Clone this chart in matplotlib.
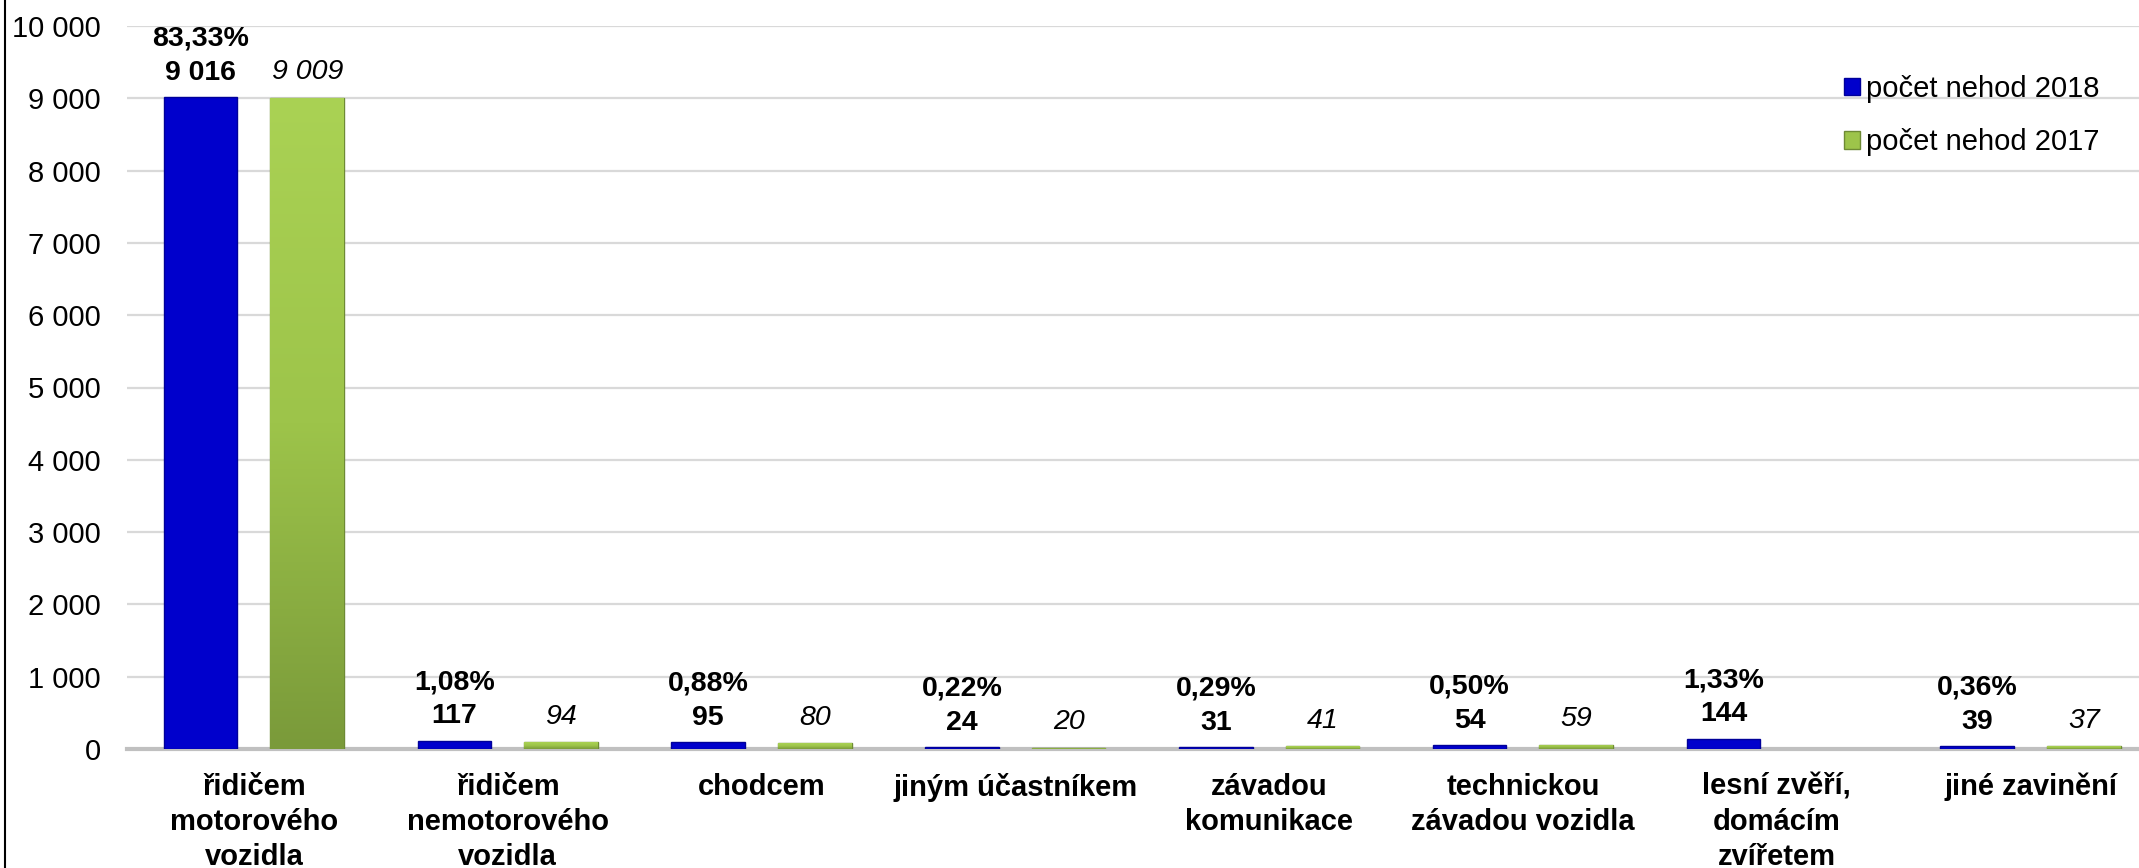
import numpy as np
import matplotlib
matplotlib.use("Agg")
import matplotlib.pyplot as plt
from matplotlib.colors import LinearSegmentedColormap
from matplotlib.patches import Patch
from matplotlib.lines import Line2D

# ---- data ----
categories = [
    "řidičem\nmotorového\nvozidla",
    "řidičem\nnemotorového\nvozidla",
    "chodcem",
    "jiným účastníkem",
    "závadou\nkomunikace",
    "technickou\nzávadou vozidla",
    "lesní zvěří,\ndomácím\nzvířetem",
    "jiné zavinění",
]
values_2018 = [9016, 117, 95, 24, 31, 54, 144, 39]
values_2017 = [9009, 94, 80, 20, 41, 59, None, 37]
share_2018 = [83.33, 1.08, 0.88, 0.22, 0.29, 0.50, 1.33, 0.36]
series_names = ["počet nehod 2018", "počet nehod 2017"]
y_ticks = [0, 1000, 2000, 3000, 4000, 5000, 6000, 7000, 8000, 9000, 10000]

plt.rcParams['font.family'] = ['Liberation Sans', 'DejaVu Sans']


def fmt_int(v):
    return f"{v:,}".replace(",", " ")


W, H = 2139, 868
fig = plt.figure(figsize=(W / 100, H / 100), dpi=100)
ax = fig.add_axes([127 / W, (H - 749) / H, 2030.4 / W, (749 - 26) / H])

x = np.arange(len(categories))
off = 0.21
bw = 0.29

blue = "#0000CC"
green_cmap = LinearSegmentedColormap.from_list("g", ["#7A9A3A", "#9DC44A", "#AAD254"])

b18 = ax.bar(x - off, values_2018, bw, color=blue, edgecolor="#00009A",
             linewidth=1.0, zorder=3, label=series_names[0])

v17 = [np.nan if v is None else v for v in values_2017]
b17 = ax.bar(x + off, v17, bw, color="#9DC44A", edgecolor="#6E8A35",
             linewidth=1.0, zorder=3, label=series_names[1])

# gradient fill for the green bars
for rect in b17:
    h = rect.get_height()
    if not np.isfinite(h) or h <= 0:
        continue
    x0, y0, w = rect.get_x(), rect.get_y(), rect.get_width()
    grad = np.linspace(1, 0, 256).reshape(-1, 1)
    im = ax.imshow(grad, cmap=green_cmap, extent=[x0, x0 + w, y0, y0 + h],
                   aspect="auto", origin="upper", zorder=3.5, vmin=0, vmax=1)
    im.set_clip_path(rect)

ax.set_xlim(-0.5, 7.5)
ax.set_ylim(0, 10000)

# grid & spines
ax.set_yticks(y_ticks)
ax.set_yticklabels([fmt_int(t) for t in y_ticks])
ax.yaxis.grid(True, color="#D9D9D9", linewidth=1.6, zorder=0)
ax.set_axisbelow(True)
for s in ["top", "right", "left"]:
    ax.spines[s].set_visible(False)
ax.spines["bottom"].set_color("#C0C0C0")
ax.spines["bottom"].set_linewidth(3)
ax.spines["bottom"].set_zorder(2)
ax.tick_params(axis="y", length=0, pad=19, labelsize=21)
ax.tick_params(axis="x", length=0, pad=17)

ax.set_xticks(x)
ax.set_xticklabels(categories, fontsize=21, fontweight="bold", linespacing=1.32, va="top")

# data labels
for xi, v, p in zip(x, values_2018, share_2018):
    lbl = f"{p:.2f}%".replace(".", ",") + "\n" + fmt_int(v)
    ax.annotate(lbl, (xi - off, v), xytext=(0, 8), textcoords="offset points",
                ha="center", va="bottom", fontsize=20.5, fontweight="bold",
                linespacing=1.42, zorder=5)
for xi, v in zip(x, values_2017):
    if v is None:
        continue
    ax.annotate(fmt_int(v), (xi + off, v), xytext=(0, 9), textcoords="offset points",
                ha="center", va="bottom", fontsize=20.5, fontstyle="italic", zorder=5)

# legend
handles = [Patch(facecolor=blue, edgecolor="#00009A"),
           Patch(facecolor="#9DC44A", edgecolor="#6E8A35")]
fig.legend(handles, series_names, loc="upper left", bbox_to_anchor=(0.862, 0.914),
           bbox_transform=fig.transFigure, frameon=False, fontsize=21,
           handlelength=0.55, handleheight=0.55, handletextpad=0.2,
           labelspacing=0.88, borderpad=0, borderaxespad=0)

# left border line of chart area
fig.add_artist(Line2D([5 / W, 5 / W], [0, 1], transform=fig.transFigure,
                      color="black", linewidth=1.5))

fig.savefig("out.png", dpi=100)
